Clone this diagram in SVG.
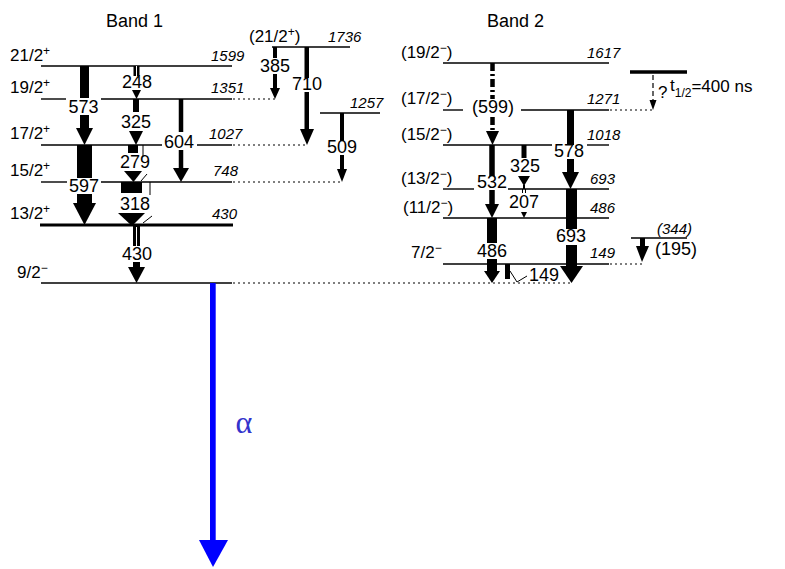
<svg xmlns="http://www.w3.org/2000/svg" width="785" height="569" viewBox="0 0 785 569">
<style>
.lv{stroke:#000;stroke-width:1.4;fill:none}
.dot{stroke:#000;stroke-width:1.1;stroke-dasharray:2 3;fill:none}
.t{font-family:"Liberation Sans",Arial,sans-serif;font-size:18px;fill:#000}
.m{text-anchor:middle}
.e{font-family:"Liberation Sans",Arial,sans-serif;font-style:italic;font-size:15px;fill:#000}
.s{font-family:"Liberation Sans",Arial,sans-serif;font-size:17px;fill:#000}
.sup{font-size:12px}
.thin{stroke:#000;stroke-width:1;fill:none}
.wl{stroke:#fff;stroke-width:1}
</style>
<rect width="785" height="569" fill="#fff"/>

<text class="t" x="106" y="27" font-size="21">Band 1</text>
<text class="t" x="487" y="27" font-size="21">Band 2</text>

<!-- Band 1 levels -->
<g id="lv-1599">
<line class="lv" x1="41" y1="66" x2="232" y2="66"/>
<text class="s" x="10" y="61">21/2<tspan class="sup" dy="-6">+</tspan></text>
<text class="e" x="211" y="61">1599</text>
</g>
<g id="lv-1351">
<line class="lv" x1="41" y1="99" x2="66" y2="99"/>
<line class="lv" x1="101" y1="99" x2="232" y2="99"/>
<line class="dot" x1="233" y1="99" x2="276" y2="99"/>
<text class="s" x="10" y="93">19/2<tspan class="sup" dy="-6">+</tspan></text>
<text class="e" x="211" y="93">1351</text>
</g>
<g id="lv-1027">
<line class="lv" x1="41" y1="145" x2="162" y2="145"/>
<line class="lv" x1="197" y1="145" x2="232" y2="145"/>
<line class="dot" x1="233" y1="145" x2="306" y2="145"/>
<text class="s" x="10" y="139">17/2<tspan class="sup" dy="-6">+</tspan></text>
<text class="e" x="209" y="139">1027</text>
</g>
<g id="lv-748">
<line class="lv" x1="41" y1="182" x2="67" y2="182"/>
<line class="lv" x1="101" y1="182" x2="232" y2="182"/>
<line class="dot" x1="233" y1="182" x2="343" y2="182"/>
<text class="s" x="10" y="176">15/2<tspan class="sup" dy="-6">+</tspan></text>
<text class="e" x="213" y="176">748</text>
</g>
<g id="lv-430">
<line x1="40" y1="225" x2="233" y2="225" stroke="#000" stroke-width="3"/>
<text class="s" x="10" y="219">13/2<tspan class="sup" dy="-6">+</tspan></text>
<text class="e" x="212" y="219">430</text>
</g>
<g id="lv-0">
<line class="lv" x1="41" y1="283" x2="232" y2="283"/>
<line class="dot" x1="233" y1="283" x2="572" y2="283"/>
<text class="s" x="17" y="278">9/2<tspan class="sup" dy="-6">−</tspan></text>
</g>
<g id="lv-1736">
<line class="lv" x1="272" y1="47" x2="350" y2="47"/>
<text class="s" x="249" y="42">(21/2<tspan class="sup" dy="-6">+</tspan><tspan dy="6">)</tspan></text>
<text class="e" x="328" y="42">1736</text>
</g>
<g id="lv-1257">
<line class="lv" x1="320" y1="113" x2="380" y2="113"/>
<text class="e" x="350" y="108">1257</text>
</g>

<!-- Band 2 levels -->
<g id="lv-1617">
<line class="lv" x1="443" y1="63" x2="609" y2="63"/>
<text class="s" x="401" y="58">(19/2<tspan class="sup" dy="-6">−</tspan><tspan dy="6">)</tspan></text>
<text class="e" x="587" y="58">1617</text>
</g>
<g id="lv-1271">
<line class="lv" x1="443" y1="110" x2="463" y2="110"/>
<line class="lv" x1="521" y1="110" x2="609" y2="110"/>
<line class="dot" x1="610" y1="110" x2="652" y2="110"/>
<text class="s" x="401" y="104">(17/2<tspan class="sup" dy="-6">−</tspan><tspan dy="6">)</tspan></text>
<text class="e" x="587" y="104">1271</text>
</g>
<g id="lv-1018">
<line class="lv" x1="443" y1="145" x2="552" y2="145"/>
<line class="lv" x1="587" y1="145" x2="609" y2="145"/>
<text class="s" x="401" y="140">(15/2<tspan class="sup" dy="-6">−</tspan><tspan dy="6">)</tspan></text>
<text class="e" x="587" y="140">1018</text>
</g>
<g id="lv-693">
<line class="lv" x1="443" y1="189" x2="474" y2="189"/>
<line class="lv" x1="508" y1="189" x2="609" y2="189"/>
<text class="s" x="401" y="184">(13/2<tspan class="sup" dy="-6">−</tspan><tspan dy="6">)</tspan></text>
<text class="e" x="590" y="184">693</text>
</g>
<g id="lv-486">
<line class="lv" x1="443" y1="218" x2="609" y2="218"/>
<text class="s" x="403" y="213">(11/2<tspan class="sup" dy="-6">−</tspan><tspan dy="6">)</tspan></text>
<text class="e" x="590" y="213">486</text>
</g>
<g id="lv-149">
<line class="lv" x1="443" y1="264" x2="609" y2="264"/>
<line class="dot" x1="610" y1="264" x2="643" y2="264"/>
<text class="s" x="411" y="258">7/2<tspan class="sup" dy="-6">−</tspan></text>
<text class="e" x="590" y="258">149</text>
</g>
<g id="lv-isomer">
<line x1="630" y1="72" x2="687" y2="72" stroke="#000" stroke-width="3.5"/>
<text class="s" x="658" y="98" font-size="16">?</text>
<text class="s" x="670" y="91" font-size="16">t<tspan font-size="12" dy="6">1/2</tspan><tspan dy="-5">=400 ns</tspan></text>
</g>
<g id="lv-344">
<line class="lv" x1="631" y1="238" x2="687" y2="238"/>
<text class="e" x="657" y="234">(344)</text>
</g>

<!-- Transitions -->
<g id="transitions" fill="#000">
<g id="t573">
<rect x="80" y="66" width="9" height="32"/><rect x="80" y="115" width="9" height="14"/>
<polygon points="76,128 93,128 84.5,145"/>
<text class="t m" x="83.5" y="113">573</text>
</g>
<g id="t597">
<rect x="77" y="145" width="15" height="33"/><rect x="77" y="194" width="15" height="10"/>
<polygon points="73,203 96,203 84.5,225"/>
<text class="t m" x="84" y="192">597</text>
</g>
<g id="t248">
<rect x="133.5" y="66" width="6" height="10"/><line class="wl" x1="136.5" y1="66" x2="136.5" y2="76"/>
<polygon points="132,90 141,90 136.5,99"/>
<text class="t m" x="137" y="88">248</text>
</g>
<g id="t325a">
<rect x="133" y="99" width="6" height="13"/>
<polygon points="129,131 143,131 136,145"/>
<text class="t m" x="136" y="128">325</text>
</g>
<g id="t279">
<rect x="128" y="145" width="10" height="8"/>
<polygon points="124,171 142,171 133.5,182"/>
<line class="thin" x1="143" y1="145" x2="143" y2="156"/>
<line class="thin" x1="141" y1="181" x2="147" y2="174"/>
<text class="t m" x="135" y="168">279</text>
</g>
<g id="t318">
<rect x="121" y="182" width="21" height="11"/>
<polygon points="118,213 145,213 132,226"/>
<line class="thin" x1="150" y1="182" x2="150" y2="195"/>
<line class="thin" x1="143" y1="223" x2="152" y2="216"/>
<text class="t m" x="135" y="210">318</text>
</g>
<g id="t430">
<rect x="133" y="225" width="7" height="21"/><line class="wl" x1="136.5" y1="227" x2="136.5" y2="246"/>
<rect x="133" y="262" width="7" height="6"/>
<polygon points="128,267 145,267 136.5,283"/>
<text class="t m" x="137" y="260">430</text>
</g>
<g id="t604">
<rect x="178.75" y="99" width="4.5" height="33"/><rect x="178.75" y="150" width="4.5" height="19"/>
<polygon points="173,168 189,168 181,182"/>
<text class="t m" x="179" y="148">604</text>
</g>
<g id="t385">
<rect x="273" y="47" width="4" height="11"/><rect x="273" y="74" width="4" height="15"/>
<polygon points="270,88 280,88 275,99"/>
<text class="t m" x="275" y="72">385</text>
</g>
<g id="t710">
<rect x="304.5" y="47" width="4.5" height="31"/><rect x="304.5" y="92" width="4.5" height="38"/>
<polygon points="300,129 314,129 307,145"/>
<text class="t m" x="307" y="90">710</text>
</g>
<g id="t509">
<rect x="340" y="113" width="4" height="28"/><rect x="340" y="155" width="4" height="15"/>
<polygon points="337,169 347,169 342,182"/>
<text class="t m" x="342" y="153">509</text>
</g>
<g id="t599">
<line x1="492.5" y1="63" x2="492.5" y2="99" stroke="#000" stroke-width="4.5" stroke-dasharray="8 3 2 3"/>
<line x1="492.5" y1="117" x2="492.5" y2="132" stroke="#000" stroke-width="4.5" stroke-dasharray="8 3 2 3"/>
<polygon points="486,131 499,131 492.5,145"/>
<text class="t m" x="493" y="113">(599)</text>
</g>
<g id="t532">
<rect x="489.25" y="145" width="5.5" height="31"/><rect x="489.25" y="190" width="5.5" height="15"/>
<polygon points="485,204 499,204 492,218"/>
<text class="t m" x="492" y="188">532</text>
</g>
<g id="t486">
<rect x="487" y="218" width="10" height="25"/><rect x="487" y="259" width="10" height="13"/>
<polygon points="484,271 500,271 492,283"/>
<text class="t m" x="492" y="257">486</text>
</g>
<g id="t325b">
<rect x="521.5" y="145" width="5" height="13"/>
<polygon points="518,176 530,176 524,186"/>
<rect x="523" y="185" width="2" height="4"/>
<text class="t m" x="525" y="172">325</text>
</g>
<g id="t207">
<line class="thin" x1="522.5" y1="189" x2="522.5" y2="193"/><line class="thin" x1="525.5" y1="189" x2="525.5" y2="193"/>
<polygon points="521,212 527,212 524,218"/>
<text class="t m" x="524" y="208">207</text>
</g>
<g id="t578">
<rect x="567" y="110" width="7" height="35"/><rect x="567" y="159" width="7" height="14"/>
<polygon points="562,172 579,172 570.5,189"/>
<text class="t m" x="569" y="157">578</text>
</g>
<g id="t693">
<rect x="566" y="189" width="11" height="40"/><rect x="566" y="245" width="11" height="22"/>
<polygon points="560,266 583,266 571.5,283"/>
<text class="t m" x="571" y="242">693</text>
</g>
<g id="t149">
<rect x="505" y="264" width="5" height="15"/>
<polyline class="thin" points="510,271 517,282 527,276" stroke-width="1.3"/>
<text class="t m" x="544" y="281" font-size="16">149</text>
</g>
<g id="t-isomer">
<line x1="653" y1="75" x2="653" y2="101" stroke="#000" stroke-width="1.2" stroke-dasharray="5 3"/>
<polygon points="649.5,100 656.5,100 653,110"/>
</g>
<g id="t195">
<rect x="640" y="238" width="5" height="9"/>
<polygon points="636,246 649,246 642,262"/>
<text class="t" x="655" y="255" font-size="16">(195)</text>
</g>
<g id="t-alpha">
<rect x="210" y="283" width="5.7" height="258" fill="#0000ff"/>
<polygon points="199,540 228,540 213,567" fill="#0000ff"/>
<text x="244" y="433" text-anchor="middle" font-family="Liberation Serif, serif" font-size="32" fill="#3333cc">α</text>
</g>
</g>
</svg>
